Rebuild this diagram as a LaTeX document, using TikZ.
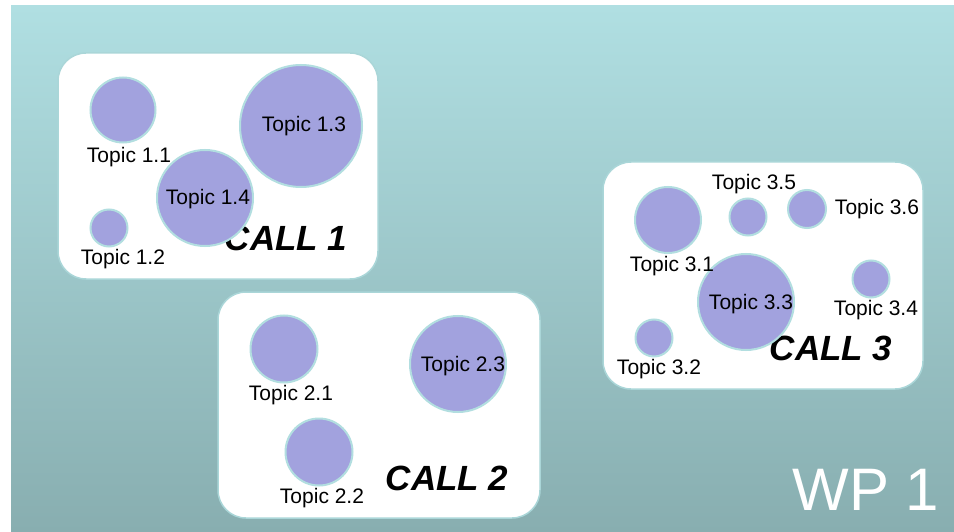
\documentclass[tikz,border=0pt]{standalone}
\usepackage{fontspec}
\setmainfont{Liberation Sans}
\definecolor{bgtop}{RGB}{176,223,226}
\definecolor{bgbot}{RGB}{136,174,176}
\definecolor{circfill}{RGB}{162,162,222}
\definecolor{circline}{RGB}{178,222,224}
\definecolor{boxline}{RGB}{170,214,216}
\begin{document}
\begin{tikzpicture}[x=1pt,y=-1pt,
  topic/.style={circle, fill=circfill, draw=circline, line width=2pt, inner sep=0pt, minimum size=#1},
  lbl/.style={inner sep=0pt, font=\fontsize{21}{25}\selectfont, text=black},
  callbox/.style={draw=boxline, line width=1.5pt, fill=white, rounded corners=28pt, inner sep=0pt},
  calltxt/.style={inner sep=0pt, font=\fontsize{35}{42}\selectfont\bfseries\itshape}]
\useasboundingbox[fill=white] (0,0) rectangle (954,532);
\fill[top color=bgtop, bottom color=bgbot] (11,6) rectangle (954,532);
% boxes
\node[callbox, minimum width=320pt, minimum height=226pt] (box1) at (218,166) {};
\node[callbox, minimum width=322pt, minimum height=226pt] (box2) at (379,405) {};
\node[callbox, minimum width=320pt, minimum height=227pt] (box3) at (763,275.5) {};
% call titles
\node[calltxt] (call1) at (286,238) {CALL 1};
\node[calltxt] (call2) at (447,478) {CALL 2};
\node[calltxt] (call3) at (831,348) {CALL 3};
% circles
\node[topic=65pt] (c11) at (123,110) {};
\node[topic=37pt] (c12) at (109,228) {};
\node[topic=122pt] (c13) at (301,126) {};
\node[topic=96pt] (c14) at (205,198) {};
\node[topic=67pt] (c21) at (284,349) {};
\node[topic=67pt] (c22) at (319,452) {};
\node[topic=96pt] (c23) at (458,364) {};
\node[topic=66pt] (c31) at (668,220) {};
\node[topic=37pt] (c32) at (654,338) {};
\node[topic=96pt] (c33) at (746,302) {};
\node[topic=37pt] (c34) at (871,279) {};
\node[topic=37pt] (c35) at (748,217) {};
\node[topic=38pt] (c36) at (807,209) {};
% labels
\node[lbl] (l11) at (129,157) {Topic 1.1};
\node[lbl] (l12) at (123,259) {Topic 1.2};
\node[lbl] (l13) at (304,126) {Topic 1.3};
\node[lbl] (l14) at (208,199) {Topic 1.4};
\node[lbl] (l21) at (291,395) {Topic 2.1};
\node[lbl] (l22) at (322,498) {Topic 2.2};
\node[lbl] (l23) at (463,366) {Topic 2.3};
\node[lbl] (l31) at (672,266) {Topic 3.1};
\node[lbl] (l32) at (659,369) {Topic 3.2};
\node[lbl] (l33) at (751,304) {Topic 3.3};
\node[lbl] (l34) at (876,310) {Topic 3.4};
\node[lbl] (l35) at (754,184) {Topic 3.5};
\node[lbl] (l36) at (877,209) {Topic 3.6};
% WP label
\node[inner sep=0pt, text=white, font=\fontsize{60}{72}\selectfont] (wp) at (866,490) {WP 1};
\end{tikzpicture}
\end{document}
